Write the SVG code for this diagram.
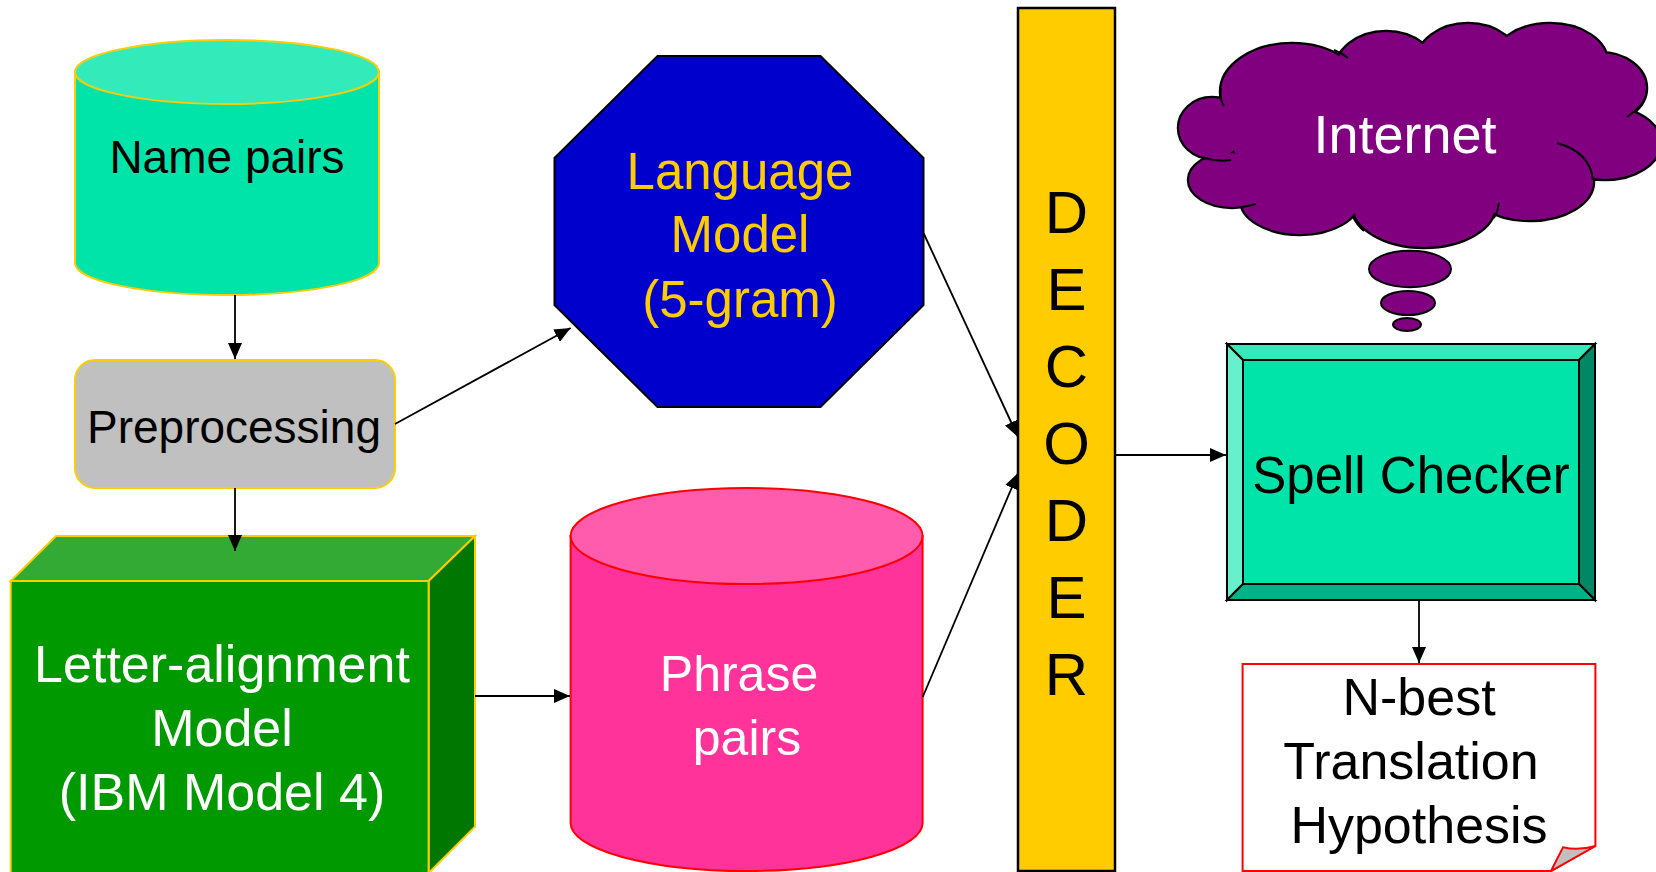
<svg xmlns="http://www.w3.org/2000/svg" width="1656" height="872" viewBox="0 0 1656 872">
<defs>
<marker id="ah" markerUnits="userSpaceOnUse" markerWidth="16" markerHeight="14" refX="16" refY="7" orient="auto"><path d="M0,0 L16,7 L0,14 Z" fill="#000"/></marker>
<style>
text{font-family:"Liberation Sans",Arial,sans-serif;text-anchor:middle}
.gold{stroke:#FFCC00;stroke-width:2}
.blk{stroke:#000;stroke-width:2}
.conn{stroke:#000;stroke-width:1.8;fill:none;marker-end:url(#ah)}
.cl{fill:#800080}
.clo{fill:#800080;stroke:#000;stroke-width:2.5}
.det{fill:none;stroke:#000;stroke-width:2}
</style>
</defs>
<rect width="1656" height="872" fill="#fff"/>

<g id="name-pairs">
<path d="M75,72 L75,263 A152,32 0 0,0 379,263 L379,72 Z" fill="#00E4A9" class="gold"/>
<ellipse cx="227" cy="72" rx="152" ry="32" fill="#33EBBA" class="gold"/>
<text x="227" y="173" font-size="46" fill="#000">Name pairs</text>
</g>

<g id="preprocessing">
<rect x="75" y="360" width="320" height="128" rx="20" ry="20" fill="#C0C0C0" class="gold"/>
<text x="234" y="443" font-size="46" fill="#000">Preprocessing</text>
</g>

<g id="letter-alignment">
<polygon points="10.7,581 56,536 475,536 428.6,581" fill="#33AA33" class="gold"/>
<polygon points="428.6,581 475,536 475,826.7 428.6,873" fill="#007700" class="gold"/>
<rect x="10.7" y="581" width="417.9" height="293" fill="#009900" class="gold"/>
<text x="222" y="682" font-size="52" fill="#fff">Letter-alignment</text>
<text x="222" y="746" font-size="52" fill="#fff">Model</text>
<text x="222" y="810" font-size="52" fill="#fff">(IBM Model 4)</text>
</g>

<g id="language-model">
<polygon points="657.5,56 820.5,56 923.5,158 923.5,305 820.5,407 657.5,407 554.5,305 554.5,158" fill="#0000CC" class="blk"/>
<text x="740" y="189" font-size="51" fill="#FFCC00">Language</text>
<text x="740" y="252" font-size="51" fill="#FFCC00">Model</text>
<text x="740" y="317" font-size="51" fill="#FFCC00">(5-gram)</text>
</g>

<g id="phrase-pairs">
<path d="M570.6,536 L570.6,823 A176,48 0 0,0 922.6,823 L922.6,536 Z" fill="#FF3399" stroke="#FF0000" stroke-width="2"/>
<ellipse cx="746.6" cy="536" rx="176" ry="48" fill="#FF5CAD" stroke="#FF0000" stroke-width="2"/>
<text x="739" y="691" font-size="50" fill="#fff">Phrase</text>
<text x="747" y="755" font-size="50" fill="#fff">pairs</text>
</g>

<g id="decoder">
<rect x="1018" y="8" width="97" height="863" fill="#FFCC00" stroke="#000" stroke-width="2.5"/>
<text x="1066.5" y="233" font-size="60" fill="#000">D</text>
<text x="1066.5" y="310" font-size="60" fill="#000">E</text>
<text x="1066.5" y="387" font-size="60" fill="#000">C</text>
<text x="1066.5" y="464" font-size="60" fill="#000">O</text>
<text x="1066.5" y="541" font-size="60" fill="#000">D</text>
<text x="1066.5" y="618" font-size="60" fill="#000">E</text>
<text x="1066.5" y="695" font-size="60" fill="#000">R</text>
</g>

<g id="internet">
<ellipse class="clo" cx="1232" cy="180" rx="44" ry="28"/>
<ellipse class="clo" cx="1212" cy="128" rx="34" ry="31"/>
<ellipse class="clo" cx="1292" cy="92" rx="72" ry="49"/>
<ellipse class="clo" cx="1386" cy="72" rx="52" ry="41"/>
<ellipse class="clo" cx="1468" cy="62" rx="52" ry="39"/>
<ellipse class="clo" cx="1550" cy="62" rx="58" ry="39"/>
<ellipse class="clo" cx="1600" cy="88" rx="47" ry="36"/>
<ellipse class="clo" cx="1605" cy="143" rx="56" ry="37"/>
<ellipse class="clo" cx="1530" cy="182" rx="64" ry="39"/>
<ellipse class="clo" cx="1424" cy="205" rx="72" ry="43"/>
<ellipse class="clo" cx="1300" cy="200" rx="60" ry="35"/>
<ellipse class="cl" cx="1232" cy="180" rx="42.8" ry="26.8"/>
<ellipse class="cl" cx="1212" cy="128" rx="32.8" ry="29.8"/>
<ellipse class="cl" cx="1292" cy="92" rx="70.8" ry="47.8"/>
<ellipse class="cl" cx="1386" cy="72" rx="50.8" ry="39.8"/>
<ellipse class="cl" cx="1468" cy="62" rx="50.8" ry="37.8"/>
<ellipse class="cl" cx="1550" cy="62" rx="56.8" ry="37.8"/>
<ellipse class="cl" cx="1600" cy="88" rx="45.8" ry="34.8"/>
<ellipse class="cl" cx="1605" cy="143" rx="54.8" ry="35.8"/>
<ellipse class="cl" cx="1530" cy="182" rx="62.8" ry="37.8"/>
<ellipse class="cl" cx="1424" cy="205" rx="70.8" ry="41.8"/>
<ellipse class="cl" cx="1300" cy="200" rx="58.8" ry="33.8"/>
<ellipse class="cl" cx="1410" cy="135" rx="180" ry="75"/>
<path class="det" d="M1224,106 Q1219,98 1221,88"/>
<path class="det" d="M1231,160 Q1218,162 1204,158"/>
<path class="det" d="M1256,204 Q1249,206 1242,207"/>
<path class="det" d="M1353,217 Q1357,225 1364,231"/>
<path class="det" d="M1499,203 Q1498,211 1494,218"/>
<path class="det" d="M1557,143 Q1590,152 1593,180"/>
<path class="det" d="M1627,117 Q1636,111 1643,103"/>
<path class="det" d="M1334,50 Q1342,53 1348,58"/>
<text x="1405" y="153" font-size="54" fill="#fff">Internet</text>
<ellipse cx="1410" cy="269" rx="41" ry="18.3" fill="#800080" stroke="#000" stroke-width="2"/>
<ellipse cx="1408" cy="303" rx="27" ry="12" fill="#800080" stroke="#000" stroke-width="2"/>
<ellipse cx="1407" cy="324.5" rx="14" ry="6.5" fill="#800080" stroke="#000" stroke-width="2"/>
</g>

<g id="spell-checker">
<polygon points="1227,344 1595,344 1579,360 1243,360" fill="#33EBBA" class="blk"/>
<polygon points="1227,344 1243,360 1243,584 1227,600" fill="#66F0CC" class="blk"/>
<polygon points="1595,344 1595,600 1579,584 1579,360" fill="#008866" class="blk"/>
<polygon points="1227,600 1243,584 1579,584 1595,600" fill="#00B386" class="blk"/>
<rect x="1243" y="360" width="336" height="224" fill="#00E4A9" class="blk"/>
<text x="1411" y="493" font-size="51" fill="#000">Spell Checker</text>
</g>

<g id="n-best">
<path d="M1242.6,664 H1595.4 V846 L1551,871 H1242.6 Z" fill="#fff" stroke="#FF0000" stroke-width="2"/>
<path d="M1551,871 L1563,847.3 Q1578,851 1595.4,846 Z" fill="#C0C0C0" stroke="#FF0000" stroke-width="2"/>
<text x="1419" y="715" font-size="52" fill="#000">N-best</text>
<text x="1411" y="779" font-size="52" fill="#000">Translation</text>
<text x="1419" y="843" font-size="52" fill="#000">Hypothesis</text>
</g>

<g id="connectors">
<path class="conn" d="M235,295 L235,359"/>
<path class="conn" d="M235,488 L235,551"/>
<path class="conn" d="M395,424 L570.6,328"/>
<path class="conn" d="M475,696 L570,696"/>
<path class="conn" d="M923.5,233 L1018,437"/>
<path class="conn" d="M922.7,697 L1018,473"/>
<path class="conn" d="M1115,455 L1226,455"/>
<path class="conn" d="M1419,600 L1419,663"/>
</g>
</svg>
